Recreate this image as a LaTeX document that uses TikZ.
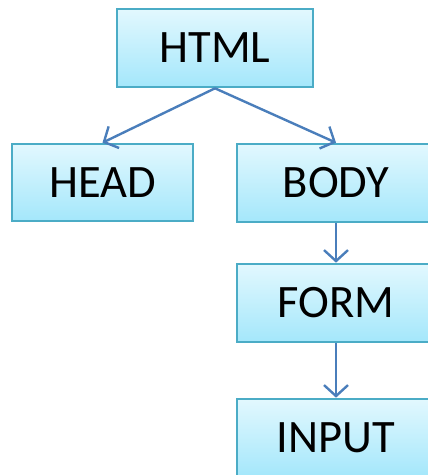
\documentclass[tikz,border=0pt]{standalone}
\usepackage{fontspec}
\setmainfont{Carlito}
\usetikzlibrary{arrows.meta}
\definecolor{boxline}{HTML}{4BACC6}
\definecolor{boxtop}{HTML}{E2F8FE}
\definecolor{boxbot}{HTML}{A4E7FB}
\definecolor{arrowc}{HTML}{4A7EBB}
\tikzset{
  tagbox/.style={draw=boxline, line width=2.6pt, top color=boxtop, bottom color=boxbot,
    minimum height=78pt, inner sep=0pt, font=\fontsize{46.5}{50}\selectfont, text=black},
  link/.style={draw=arrowc, line width=2.4pt, -{Straight Barb[length=11pt,width=24pt,line width=2.4pt]}}
}
\begin{document}
\begin{tikzpicture}[x=1pt,y=-1pt]
\useasboundingbox (0,0) rectangle (428,475);
\clip (0,0) rectangle (428,475);
\node[tagbox, minimum width=196pt] (html) at (215,48) {HTML};
\node[tagbox, minimum width=181pt, minimum height=77pt] (head) at (102.5,182.5) {HEAD};
\node[tagbox, minimum width=198pt] (body) at (336,183) {BODY};
\node[tagbox, minimum width=198pt] (form) at (336,303) {FORM};
\node[tagbox, minimum width=198pt] (input) at (336,438) {INPUT};
\draw[link] (html.south) -- (head.north);
\draw[link] (html.south) -- (body.north);
\draw[link] (body.south) -- (form.north);
\draw[link] (form.south) -- (input.north);
\end{tikzpicture}
\end{document}
